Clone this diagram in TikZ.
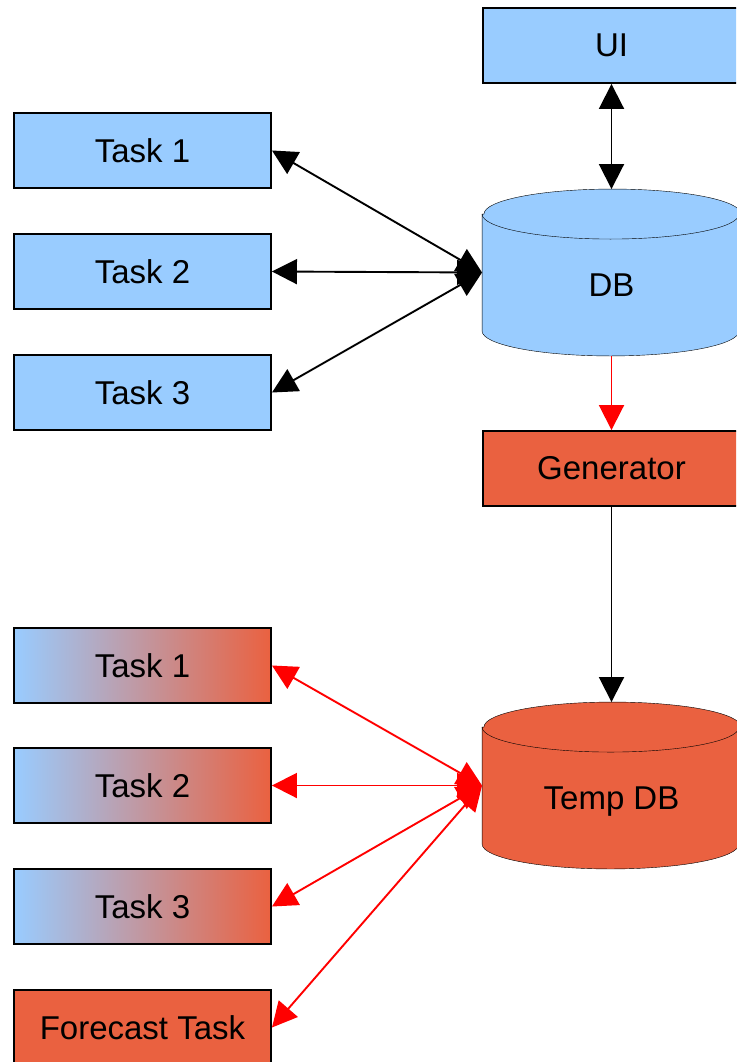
\documentclass[tikz,border=0pt]{standalone}
\usepackage{fontspec}
\setmainfont{Liberation Sans}
\usetikzlibrary{backgrounds,arrows.meta}
\definecolor{dbblue}{RGB}{153,204,255}
\definecolor{genred}{RGB}{234,97,64}

\begin{document}
\begin{tikzpicture}[x=1pt, y=-1pt, line width=1.9pt, >={Triangle[length=25pt, width=25pt]},
    every node/.style = {draw, inner sep=0pt, font=\fontsize{33}{39}\selectfont},
    box/.style = {shape=rectangle, minimum width=257pt, minimum height=75pt},
    store/.style = {shape=rectangle, draw=none, minimum width=257pt, minimum height=165pt, text height=60pt, text depth=12pt},
    lid/.style = {x radius=128.5pt, y radius=25pt},
    mixed/.style = {box, left color=dbblue, right color=genred}]
    \clip (0,0) rectangle (736,1062);
    % upper part
    \node[box, fill=dbblue] (ui) at (611.5,45.5) {UI};
    \node[store] (db) at (611.5,272.5) {DB};
    \node[box, fill=dbblue] (task1) at (142.5,150.5) {Task 1};
    \node[box, fill=dbblue] (task2) at (142.5,271.5) {Task 2};
    \node[box, fill=dbblue] (task3) at (142.5,392.5) {Task 3};
    \node[box, fill=genred] (gen) at (611.5,468.5) {Generator};
    % lower part
    \node[store] (tmpdb) at (611.5,785.5) {Temp DB};
    \node[mixed] (tmp1) at (142.5,665.5) {Task 1};
    \node[mixed] (tmp2) at (142.5,785.5) {Task 2};
    \node[mixed] (tmp3) at (142.5,906.5) {Task 3};
    \node[box, fill=genred] (forecast) at (142.5,1027.5) {Forecast Task};
    % the two drums
    \begin{scope}[on background layer]
        \foreach \s/\c in {db/dbblue, tmpdb/genred} {
            \filldraw[fill=\c] ([yshift=-25pt]\s.north west) -- ([yshift=25pt]\s.south west)
                arc[start angle=180, end angle=360, lid] -- ([yshift=-25pt]\s.north east)
                arc[start angle=0, end angle=180, lid] -- cycle;
            \draw ([yshift=-25pt]\s.north west) arc[start angle=180, end angle=360, lid];
        }
    \end{scope}
    \draw[<->] (ui) -- (db.north);
    \foreach \t in {task1,task2,task3}
        \draw[<->] (\t.east) -- (db.west);
    \draw[->, red] (db.south) -- (gen);
    \draw[->] (gen) -- (tmpdb.north);
    \foreach \t in {tmp1,tmp2,tmp3,forecast}
        \draw[<->, red] (\t.east) -- (tmpdb.west);
\end{tikzpicture}
\end{document}
